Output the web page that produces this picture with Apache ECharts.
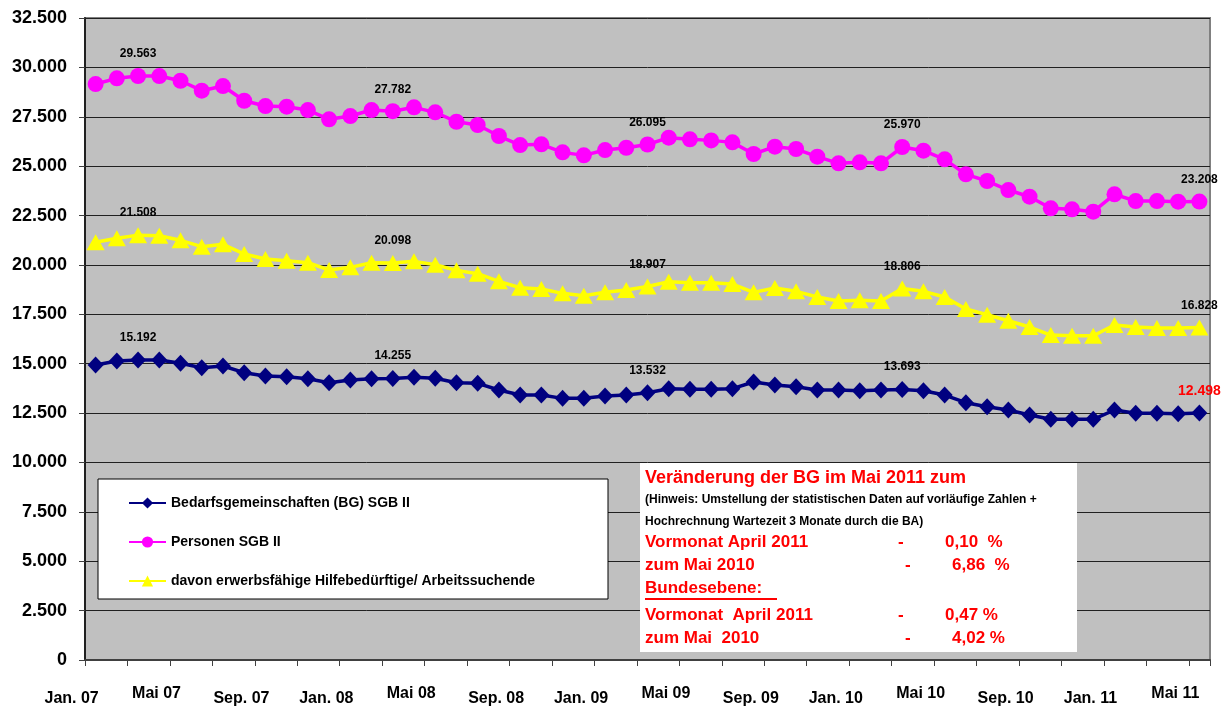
<!DOCTYPE html>
<html>
<head>
<meta charset="utf-8">
<script src="https://cdn.jsdelivr.net/npm/echarts@6/dist/echarts.min.js"></script>
<style>
  html, body { margin: 0; padding: 0; background: #fff; }
  #chart { width: 1230px; height: 708px; }
</style>
</head>
<body>
<div id="chart"></div>
<script>
// Monate Jan. 07 - Mai 11
const months = [
  'Jan. 07', 'Feb. 07', 'Mär. 07', 'Apr. 07', 'Mai 07', 'Jun. 07', 'Jul. 07', 'Aug. 07', 'Sep. 07', 'Okt. 07', 'Nov. 07', 'Dez. 07',
  'Jan. 08', 'Feb. 08', 'Mär. 08', 'Apr. 08', 'Mai 08', 'Jun. 08', 'Jul. 08', 'Aug. 08', 'Sep. 08', 'Okt. 08', 'Nov. 08', 'Dez. 08',
  'Jan. 09', 'Feb. 09', 'Mär. 09', 'Apr. 09', 'Mai 09', 'Jun. 09', 'Jul. 09', 'Aug. 09', 'Sep. 09', 'Okt. 09', 'Nov. 09', 'Dez. 09',
  'Jan. 10', 'Feb. 10', 'Mär. 10', 'Apr. 10', 'Mai 10', 'Jun. 10', 'Jul. 10', 'Aug. 10', 'Sep. 10', 'Okt. 10', 'Nov. 10', 'Dez. 10',
  'Jan. 11', 'Feb. 11', 'Mär. 11', 'Apr. 11', 'Mai 11'
]

const bedarfsgemeinschaften = [
  14933, 15135, 15192, 15186, 15018, 14798, 14882, 14545, 14376, 14343, 14242, 14039,
  14174, 14242, 14255, 14309, 14259, 14039, 14006, 13667, 13414, 13414, 13245, 13245,
  13364, 13414, 13532, 13734, 13700, 13700, 13734, 14073, 13920, 13835, 13667, 13667,
  13633, 13667, 13693, 13633, 13414, 13026, 12823, 12655, 12402, 12183, 12183, 12183,
  12655, 12486, 12486, 12470, 12498
]

const personen = [
  29157, 29445, 29563, 29560, 29325, 28820, 29056, 28312, 28043, 28009, 27841, 27370,
  27537, 27841, 27782, 27977, 27724, 27249, 27082, 26525, 26069, 26103, 25698, 25546,
  25816, 25932, 26095, 26440, 26356, 26305, 26204, 25614, 25986, 25867, 25479, 25141,
  25192, 25141, 25970, 25782, 25344, 24585, 24247, 23791, 23453, 22865, 22815, 22697,
  23572, 23234, 23234, 23200, 23208
]

const erwerbsfaehige = [
  21150, 21347, 21508, 21480, 21245, 20923, 21043, 20552, 20298, 20213, 20112, 19742,
  19877, 20112, 20098, 20180, 20011, 19725, 19556, 19168, 18845, 18780, 18561, 18443,
  18612, 18730, 18907, 19151, 19100, 19100, 19033, 18612, 18831, 18662, 18375, 18172,
  18206, 18172, 18806, 18662, 18375, 17768, 17480, 17176, 16856, 16451, 16417, 16417,
  16958, 16856, 16805, 16805, 16828
]

const seriesNames = [
  'Bedarfsgemeinschaften (BG) SGB II',
  'Personen SGB II',
  'davon erwerbsfähige Hilfebedürftige/ Arbeitssuchende'
]

// Punkte mit Wertebeschriftung
const labelIdx = [2, 14, 26, 38, 52]

const FONT = '"Liberation Sans", Arial, sans-serif'

function fmt(v) {
  return String(v).replace(/\B(?=(\d{3})+(?!\d))/g, '.')
}

function withLabels(values, lastRed) {
  return values.map(function(v, i) {
    if (labelIdx.indexOf(i) < 0) return v
    const red = lastRed && i === values.length - 1
    return {
      value: v,
      label: {
        show: true,
        position: 'top',
        distance: red ? 6 : 8,
        formatter: function(p) { return fmt(p.value) },
        color: red ? '#FF0000' : '#000',
        fontWeight: 'bold',
        fontSize: red ? 14 : 12,
        fontFamily: FONT
      }
    }
  })
}

const chart = echarts.init(document.getElementById('chart'))

const redText = function(text, x, y, size) {
  return {
    type: 'text', z: 6, x: x, y: y,
    style: { text: text, fill: '#FF0000', font: 'bold ' + (size || 17) + 'px ' + FONT, verticalAlign: 'middle' }
  }
}

const tickFont = { fontSize: 16, fontWeight: 'bold', color: '#000', fontFamily: FONT }

chart.setOption({
  animation: false,
  grid: {
    left: 85,
    right: 20,
    top: 18,
    bottom: 48,
    show: true,
    backgroundColor: '#C0C0C0',
    borderColor: '#808080',
    borderWidth: 2
  },
  legend: {
    orient: 'vertical',
    left: 123,
    top: 491,
    z: 10,
    itemWidth: 37,
    itemHeight: 14,
    itemGap: 25,
    data: seriesNames,
    textStyle: { fontSize: 14, fontWeight: 'bold', color: '#000', fontFamily: FONT }
  },
  xAxis: {
    type: 'category',
    data: months,
    boundaryGap: true,
    axisLine: { lineStyle: { color: '#404040', width: 2 } },
    axisTick: { show: true, interval: 1, length: 6, lineStyle: { color: '#404040' } },
    axisLabel: {
      interval: 3,
      margin: 26,
      padding: [0, 48, 0, 0],
      fontSize: 16,
      fontWeight: 'bold',
      color: '#000',
      fontFamily: FONT,
      // Mai-Beschriftungen stehen etwas höher
      formatter: function(v) {
        return v.indexOf('Mai') === 0 ? '{m|' + v + '}' : '{o|' + v + '}'
      },
      rich: {
        m: Object.assign({ padding: [0, 0, 0, 0] }, tickFont),
        o: Object.assign({ padding: [5, 0, 0, 0] }, tickFont)
      }
    }
  },
  yAxis: {
    type: 'value',
    min: 0,
    max: 32500,
    interval: 2500,
    axisLine: { show: true, lineStyle: { color: '#202020', width: 2 } },
    axisTick: { show: true, length: 6, lineStyle: { color: '#404040' } },
    splitLine: { lineStyle: { color: '#202020', width: 1 } },
    axisLabel: {
      margin: 18,
      fontSize: 18,
      fontWeight: 'bold',
      color: '#000',
      fontFamily: FONT,
      formatter: fmt
    }
  },
  series: [
    {
      name: seriesNames[0],
      type: 'line',
      symbol: 'diamond',
      symbolSize: [16, 17],
      showAllSymbol: true,
      itemStyle: { color: '#000080' },
      lineStyle: { color: '#000080', width: 3.5 },
      data: withLabels(bedarfsgemeinschaften, true)
    },
    {
      name: seriesNames[1],
      type: 'line',
      symbol: 'circle',
      symbolSize: 16,
      showAllSymbol: true,
      itemStyle: { color: '#FF00FF' },
      lineStyle: { color: '#FF00FF', width: 3.5 },
      data: withLabels(personen, false)
    },
    {
      name: seriesNames[2],
      type: 'line',
      symbol: 'triangle',
      symbolSize: [18, 16],
      showAllSymbol: true,
      itemStyle: { color: '#FFFF00' },
      lineStyle: { color: '#FFFF00', width: 3.5 },
      data: withLabels(erwerbsfaehige, false)
    }
  ],
  graphic: [
    // Legendenrahmen
    {
      type: 'rect', z: 3,
      shape: { x: 98, y: 479, width: 510, height: 120 },
      style: { fill: '#fff', stroke: '#000', lineWidth: 1 }
    },
    // Textfeld
    {
      type: 'rect', z: 3,
      shape: { x: 640, y: 463, width: 437, height: 189 },
      style: { fill: '#fff' }
    },
    redText('Veränderung der BG im Mai 2011 zum', 645, 478, 18),
    {
      type: 'text', z: 6, x: 645, y: 500,
      style: { text: '(Hinweis: Umstellung der statistischen Daten auf vorläufige Zahlen +', fill: '#000', font: 'bold 12px ' + FONT, verticalAlign: 'middle' }
    },
    {
      type: 'text', z: 6, x: 645, y: 522,
      style: { text: 'Hochrechnung Wartezeit 3 Monate durch die BA)', fill: '#000', font: 'bold 12px ' + FONT, verticalAlign: 'middle' }
    },
    redText('Vormonat April 2011', 645, 542),
    redText('-', 898, 542),
    redText('0,10  %', 945, 542),
    redText('zum Mai 2010', 645, 565),
    redText('-', 905, 565),
    redText('6,86  %', 952, 565),
    redText('Bundesebene:', 645, 588),
    {
      type: 'line', z: 6,
      shape: { x1: 645, y1: 599, x2: 777, y2: 599 },
      style: { stroke: '#FF0000', lineWidth: 2 }
    },
    redText('Vormonat  April 2011', 645, 615),
    redText('-', 898, 615),
    redText('0,47 %', 945, 615),
    redText('zum Mai  2010', 645, 638),
    redText('-', 905, 638),
    redText('4,02 %', 952, 638)
  ]
})
</script>
</body>
</html>
